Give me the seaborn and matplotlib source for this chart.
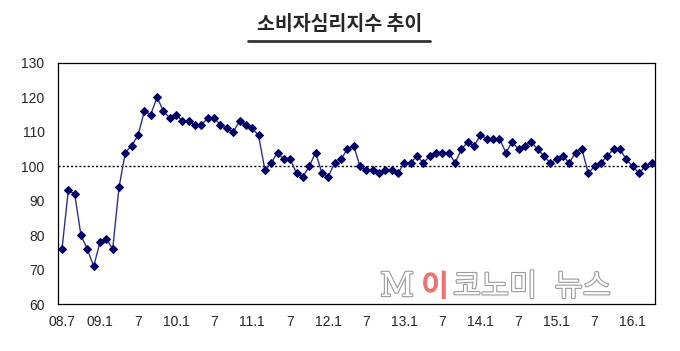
"""
소비자심리지수 추이 (2008.7 ~ 2016.4), 월별 꺾은선 그래프.
"""

import matplotlib
matplotlib.use("Agg")
import matplotlib.pyplot as plt
import matplotlib.patheffects as pe
from matplotlib.lines import Line2D
import seaborn as sns

# 데이터: 2008.7부터 매월
month_index = list(range(94))
csi_values = [
    76, 93, 92, 80, 76, 71, 78, 79, 76, 94, 104, 106,
    109, 116, 115, 120, 116, 114, 115, 113, 113, 112, 112, 114,
    114, 112, 111, 110, 113, 112, 111, 109, 99, 101, 104, 102,
    102, 98, 97, 100, 104, 98, 97, 101, 102, 105, 106, 100,
    99, 99, 98, 99, 99, 98, 101, 101, 103, 101, 103, 104,
    104, 104, 101, 105, 107, 106, 109, 108, 108, 108, 104, 107,
    105, 106, 107, 105, 103, 101, 102, 103, 101, 104, 105, 98,
    100, 101, 103, 105, 105, 102, 100, 98, 100, 101,
]
tick_positions = [0, 6, 12, 18, 24, 30, 36, 42, 48, 54, 60, 66, 72, 78, 84, 90]
tick_labels = ["08.7", "09.1", "7", "10.1", "7", "11.1", "7", "12.1",
               "7", "13.1", "7", "14.1", "7", "15.1", "7", "16.1"]
y_ticks = [60, 70, 80, 90, 100, 110, 120, 130]

sns.set_style("white")
plt.rcParams["font.family"] = ["Liberation Sans Narrow", "Liberation Sans", "DejaVu Sans"]

fig = plt.figure(figsize=(6.8, 3.51), dpi=100)
ax = fig.add_axes([0.086, 0.133, 0.877, 0.688])

# 기준선 100
ax.axhline(100, color="black", linestyle=(0, (1.5, 1.5)), linewidth=1, zorder=1)

sns.lineplot(x=month_index, y=csi_values, ax=ax, color="#2e2e8a", linewidth=1,
             marker="D", markersize=4.5, markerfacecolor="#000066",
             markeredgecolor="#000066", zorder=3)

ax.set_xlim(-0.55, 93.5)
ax.set_ylim(60, 130)
ax.set_yticks(y_ticks)
ax.set_yticklabels([str(v) for v in y_ticks], fontsize=10)
ax.set_xticks(tick_positions)
ax.set_xticklabels(tick_labels, fontsize=10)
ax.set_xticks(month_index, minor=True)
ax.tick_params(axis="y", direction="in", length=3, width=0.8, pad=10)
ax.tick_params(axis="x", which="both", direction="in", length=3, width=0.8, pad=8)
ax.set_xlabel("")
ax.set_ylabel("")
for s in ax.spines.values():
    s.set_color("black")
    s.set_linewidth(0.9)

# 제목 + 밑줄
fig.text(0.499, 0.931, "소비자심리지수 추이", ha="center", va="center",
         fontsize=14, fontweight="bold", family=["Noto Sans CJK KR", "DejaVu Sans"])
fig.add_artist(Line2D([0.364, 0.632], [0.884, 0.884], color="#333333", linewidth=2))

# 워터마크
outline = [pe.withStroke(linewidth=1.6, foreground="#9a9a9a")]
wm_y = 0.182
fig.text(0.584, wm_y, "M", ha="center", va="center", fontsize=24, color="white",
         family=["DejaVu Serif"], path_effects=outline, zorder=5)
fig.text(0.640, wm_y, "이", ha="center", va="center", fontsize=22, color="#f07070",
         fontweight="bold", family=["Noto Sans CJK KR"], zorder=5)
fig.text(0.728, wm_y, "코노미", ha="center", va="center", fontsize=22,
         color="white", family=["Noto Sans CJK KR"], path_effects=outline, zorder=5)
fig.text(0.857, wm_y, "뉴스", ha="center", va="center", fontsize=22,
         color="white", family=["Noto Sans CJK KR"], path_effects=outline, zorder=5)

fig.savefig("out.png", dpi=100)
